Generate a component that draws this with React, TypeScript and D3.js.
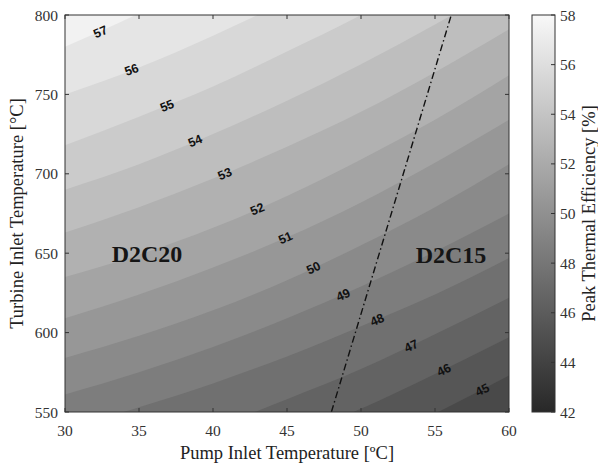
import React from 'react';
import * as d3 from 'd3';

// pump inlet temperatures where each contour line was read
const pumpT = [30, 35, 40, 45, 50, 55, 60];

// turbine inlet temperature at which each efficiency level crosses pumpT
const eta44 = [438, 452, 467, 485, 505, 527, 551];
const eta45 = [460, 474, 489, 507, 527, 549, 573];
const eta46 = [487, 500, 516, 533, 552, 574, 597];
const eta47 = [512, 525, 540, 558, 577, 599, 622];
const eta48 = [539, 553, 568, 585, 604, 624, 647];
const eta49 = [561, 575, 591, 609, 629, 651, 675];
const eta50 = [584, 598, 614, 633, 655, 679, 706];
const eta51 = [609, 624, 641, 660, 682, 707, 734];
const eta52 = [635, 649, 666, 686, 709, 734, 762];
const eta53 = [663, 679, 697, 717, 739, 764, 791];
const eta54 = [690, 706, 725, 746, 769, 794, 821];
const eta55 = [718, 736, 755, 777, 800, 826, 854];
const eta56 = [750, 767, 787, 809, 833, 859, 887];
const eta57 = [780, 801, 824, 849, 877, 906, 937];

const levels = [44, 45, 46, 47, 48, 49, 50, 51, 52, 53, 54, 55, 56, 57];
const contourLines = [eta44, eta45, eta46, eta47, eta48, eta49, eta50, eta51, eta52, eta53, eta54, eta55, eta56, eta57];

// inline contour labels
const labelLevels = [57, 56, 55, 54, 53, 52, 51, 50, 49, 48, 47, 46, 45];
const labelPump = [32.4, 34.5, 36.9, 38.8, 40.8, 43.0, 44.9, 46.8, 48.8, 51.1, 53.4, 55.6, 58.2];
const labelTurb = [789.3, 765.4, 742.7, 720.6, 699.8, 677.7, 659.5, 640.6, 623.6, 607.9, 591.5, 576.4, 563.8];

// D2C20 / D2C15 boundary (dash-dot)
const boundaryPump = [48.0, 56.1];
const boundaryTurb = [550, 800];

const xTicks = [30, 35, 40, 45, 50, 55, 60];
const yTicks = [550, 600, 650, 700, 750, 800];
const cbTicks = [42, 44, 46, 48, 50, 52, 54, 56, 58];

const W = 598;
const H = 465;
const L = 65, R = 509, T = 15, B = 412;
const CBL = 532, CBR = 555;

const serif = '"Liberation Serif", "Times New Roman", serif';
const sans = '"Liberation Sans", Arial, sans-serif';

export default function App() {
  const x = d3.scaleLinear().domain([30, 60]).range([L, R]);
  const y = d3.scaleLinear().domain([550, 800]).range([B, T]);
  const cb = d3.scaleLinear().domain([42, 58]).range([B, T]);
  const gray = d3.scaleLinear<string>().domain([42, 58]).range(['#282828', '#f8f8f8']);

  const area = d3
    .area<number>()
    .x((d, i) => x(pumpT[i]))
    .y0((d) => y(d))
    .y1(() => y(1100))
    .curve(d3.curveMonotoneX);

  // slope of a contour line at a pump temperature, in pixels
  const angleAt = (line: number[], p: number) => {
    const interp = d3.scaleLinear().domain(pumpT).range(line);
    const dy = y(interp(p + 0.5)) - y(interp(p - 0.5));
    const dx = x(p + 0.5) - x(p - 0.5);
    return (Math.atan2(dy, dx) * 180) / Math.PI;
  };

  const gradStops = d3.range(42, 58.01, 2);

  return (
    <svg width={W} height={H} style={{ position: 'absolute', left: 0, top: 0, background: '#fff' }}>
      <defs>
        <clipPath id="plot">
          <rect x={L} y={T} width={R - L} height={B - T} />
        </clipPath>
        <linearGradient id="cbgrad" x1="0" y1="1" x2="0" y2="0">
          {gradStops.map((v) => (
            <stop key={v} offset={(v - 42) / 16} stopColor={gray(v)} />
          ))}
        </linearGradient>
      </defs>

      <g clipPath="url(#plot)">
        <rect x={L} y={T} width={R - L} height={B - T} fill={gray(43.5)} />
        {contourLines.map((line, i) => (
          <path key={levels[i]} d={area(line) || ''} fill={gray(levels[i] + 0.5)} />
        ))}
        <line
          x1={x(boundaryPump[0])}
          y1={y(boundaryTurb[0])}
          x2={x(boundaryPump[1])}
          y2={y(boundaryTurb[1])}
          stroke="#111"
          strokeWidth={1.4}
          strokeDasharray="7 3 1.5 3"
        />
        {labelLevels.map((lv, i) => {
          const line = contourLines[levels.indexOf(lv)];
          const a = angleAt(line, labelPump[i]);
          const px = x(labelPump[i]);
          const py = y(labelTurb[i]);
          return (
            <text
              key={lv}
              x={px}
              y={py}
              transform={`rotate(${a},${px},${py})`}
              textAnchor="middle"
              dominantBaseline="central"
              fontFamily={sans}
              fontSize={12.5}
              fontWeight="bold"
              fill="#111"
            >
              {lv}
            </text>
          );
        })}
        <text x={147} y={262} textAnchor="middle" fontFamily={serif} fontSize={24} fontWeight="bold" fill="#151515">
          D2C20
        </text>
        <text x={451} y={263} textAnchor="middle" fontFamily={serif} fontSize={24} fontWeight="bold" fill="#151515">
          D2C15
        </text>
      </g>

      {/* axes box and ticks */}
      <rect x={L} y={T} width={R - L} height={B - T} fill="none" stroke="#333" strokeWidth={1} />
      {xTicks.map((t) => (
        <g key={t}>
          <line x1={x(t)} x2={x(t)} y1={B} y2={B - 4} stroke="#333" />
          <line x1={x(t)} x2={x(t)} y1={T} y2={T + 4} stroke="#333" />
          <text x={x(t)} y={430} textAnchor="middle" dominantBaseline="central" fontFamily={serif} fontSize={15.5} fill="#333">
            {t}
          </text>
        </g>
      ))}
      {yTicks.map((t) => (
        <g key={t}>
          <line x1={L} x2={L + 4} y1={y(t)} y2={y(t)} stroke="#333" />
          <line x1={R} x2={R - 4} y1={y(t)} y2={y(t)} stroke="#333" />
          <text x={58} y={y(t)} textAnchor="end" dominantBaseline="central" fontFamily={serif} fontSize={15.5} fill="#333">
            {t}
          </text>
        </g>
      ))}
      <text x={287} y={453} textAnchor="middle" dominantBaseline="central" fontFamily={serif} fontSize={18.5} fill="#222">
        Pump Inlet Temperature [ºC]
      </text>
      <text
        transform={`translate(17,${(T + B) / 2}) rotate(-90)`}
        textAnchor="middle"
        dominantBaseline="central"
        fontFamily={serif}
        fontSize={18.5}
        fill="#222"
      >
        Turbine Inlet Temperature [°C]
      </text>

      {/* colorbar */}
      <rect x={CBL} y={T} width={CBR - CBL} height={B - T} fill="url(#cbgrad)" stroke="#333" />
      {cbTicks.map((t) => (
        <g key={t}>
          <line x1={CBR} x2={CBR - 4} y1={cb(t)} y2={cb(t)} stroke="#333" />
          <text x={560} y={cb(t)} dominantBaseline="central" fontFamily={serif} fontSize={15.5} fill="#333">
            {t}
          </text>
        </g>
      ))}
      <text
        transform={`translate(589,${(T + B) / 2}) rotate(-90)`}
        textAnchor="middle"
        dominantBaseline="central"
        fontFamily={serif}
        fontSize={18.5}
        fill="#222"
      >
        Peak Thermal Efficiency [%]
      </text>
    </svg>
  );
}
